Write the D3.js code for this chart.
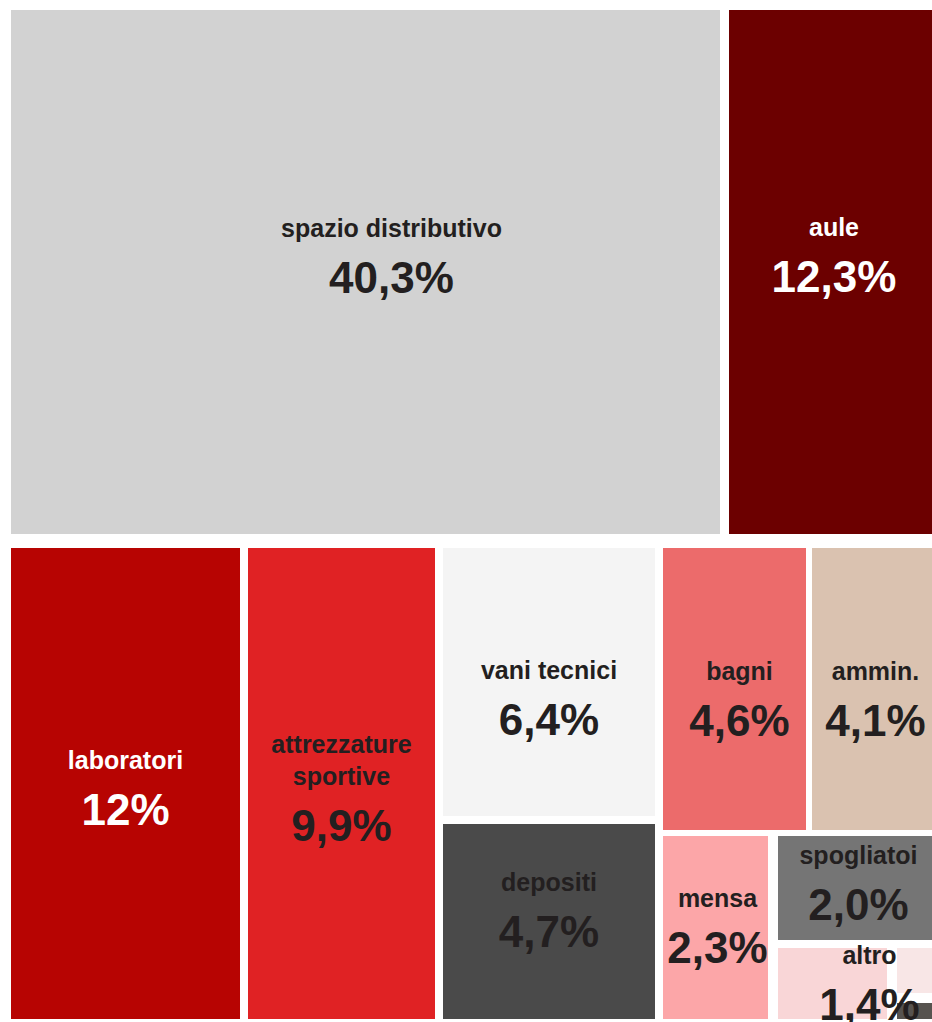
<!DOCTYPE html>
<html lang="it">
<head>
<meta charset="utf-8">
<title>Ripartizione delle superfici</title>
<script src="https://cdn.jsdelivr.net/npm/d3@7/dist/d3.min.js"></script>
<style>
  html, body { margin: 0; padding: 0; background: #ffffff; }
  svg { display: block; }
  text { font-family: "Liberation Sans", Arial, Helvetica, sans-serif; font-weight: bold; }
</style>
</head>
<body>
<svg id="chart" width="932" height="1022"></svg>
<script>
// Quote di superficie per destinazione d'uso (percentuale sul totale)
const categories = [
  "spazio distributivo", "aule", "laboratori", "attrezzature sportive",
  "vani tecnici", "depositi", "bagni", "ammin.", "mensa", "spogliatoi", "altro"
];
const shares = [40.3, 12.3, 12, 9.9, 6.4, 4.7, 4.6, 4.1, 2.3, 2.0, 1.4];
const shareLabels = ["40,3%", "12,3%", "12%", "9,9%", "6,4%", "4,7%", "4,6%", "4,1%", "2,3%", "2,0%", "1,4%"];
// suddivisione interna della voce "altro"
const altroParts = [0.97, 0.29, 0.14];

// Raggruppamento dei riquadri: i livelli si alternano tra colonne e righe
const layoutTree = { id: "root", children: [
  { id: "top", children: ["spazio distributivo", "aule"] },
  { id: "bottom", children: [
    "laboratori", "attrezzature sportive",
    { id: "vani-depositi", children: ["vani tecnici", "depositi"] },
    { id: "servizi", children: [
      { id: "bagni-ammin", children: ["bagni", "ammin."] },
      { id: "mensa-resto", children: ["mensa", { id: "spogl-altro", children: ["spogliatoi", "altro"] }] }
    ]}
  ]}
]};

const fills = {
  "spazio distributivo": "#d2d2d2",
  "aule": "#6c0000",
  "laboratori": "#b70402",
  "attrezzature sportive": "#e02224",
  "vani tecnici": "#f4f4f4",
  "depositi": "#4a4a4a",
  "bagni": "#ec6b6b",
  "ammin.": "#dac2b0",
  "mensa": "#fca6a8",
  "spogliatoi": "#757575",
  "altro": "#f9d6d7"
};
const altroFills = ["#f9d6d7", "#f8e6e6", "#57534f"];
const lightText = new Set(["aule", "laboratori"]);

const gaps = {
  "root": 14, "top": 9, "bottom": 8, "vani-depositi": 8, "servizi": 6,
  "bagni-ammin": 6, "mensa-resto": 10, "spogl-altro": 8, "altro": 10, "altro-b": 10
};

// piccoli spostamenti delle etichette rispetto al centro del riquadro
const labelNudge = {
  "spazio distributivo": [26, -16], "aule": [0, -17], "laboratori": [0, 4],
  "attrezzature sportive": [0, 4], "vani tecnici": [0, 16], "depositi": [0, -12],
  "bagni": [5, 10], "ammin.": [0, 10], "mensa": [2, -2], "spogliatoi": [0, -5],
  "altro": [11, -1]
};

const shareOf = new Map(categories.map((c, i) => [c, shares[i]]));
const labelOf = new Map(categories.map((c, i) => [c, shareLabels[i]]));

function build(item) {
  if (typeof item === "string") {
    if (item === "altro") {
      return { id: "altro", name: "altro", children: [
        { id: "altro-a", part: 0, value: altroParts[0] },
        { id: "altro-b", children: [
          { id: "altro-b1", part: 1, value: altroParts[1] },
          { id: "altro-b2", part: 2, value: altroParts[2] }
        ]}
      ]};
    }
    return { id: item, name: item, value: shareOf.get(item) };
  }
  return { id: item.id, children: item.children.map(build) };
}

const frame = { left: 11, top: 10, width: 928, height: 1009 };

const root = d3.hierarchy(build(layoutTree))
  .sum(d => d.children ? 0 : d.value);

d3.treemap()
  .size([frame.width, frame.height])
  .tile((node, x0, y0, x1, y1) =>
    (node.depth % 2 === 0 ? d3.treemapSlice : d3.treemapDice)(node, x0, y0, x1, y1))
  .paddingInner(node => gaps[node.data.id] || 0)
  .round(true)(root);

const svg = d3.select("#chart");
const g = svg.append("g").attr("transform", `translate(${frame.left},${frame.top})`);

// riquadri
const leaves = root.leaves();
g.selectAll("rect.cell")
  .data(leaves)
  .join("rect")
  .attr("class", "cell")
  .attr("x", d => d.x0)
  .attr("y", d => d.y0)
  .attr("width", d => Math.max(0, d.x1 - d.x0))
  .attr("height", d => Math.max(0, d.y1 - d.y0))
  .attr("fill", d => d.data.part !== undefined ? altroFills[d.data.part] : fills[d.data.name]);

// etichette: nome della voce e quota percentuale
const named = root.descendants().filter(d => d.data.name);
const nameSize = 25, lineGap = 32, valueGap = 56, ascent = 18;

named.forEach(d => {
  const w = d.x1 - d.x0;
  const nudge = labelNudge[d.data.name] || [0, 0];
  const cx = (d.x0 + d.x1) / 2 + nudge[0];
  const cy = (d.y0 + d.y1) / 2 + nudge[1];
  const color = lightText.has(d.data.name) ? "#ffffff" : "#231f20";

  const lab = g.append("g").attr("class", "label");
  // divide il nome su più righe se non entra nel riquadro
  const words = d.data.name.split(" ");
  const probe = lab.append("text").attr("font-size", nameSize);
  const lines = [];
  let current = "";
  words.forEach(wd => {
    const trial = current ? current + " " + wd : wd;
    probe.text(trial);
    if (current && probe.node().getComputedTextLength() > w - 24) {
      lines.push(current);
      current = wd;
    } else {
      current = trial;
    }
  });
  lines.push(current);
  probe.remove();

  const blockH = ascent + (lines.length - 1) * lineGap + valueGap;
  const firstBase = cy - blockH / 2 + ascent;

  lines.forEach((ln, i) => {
    lab.append("text")
      .attr("x", cx)
      .attr("y", firstBase + i * lineGap)
      .attr("text-anchor", "middle")
      .attr("font-size", nameSize)
      .attr("fill", color)
      .text(ln);
  });
  lab.append("text")
    .attr("x", cx)
    .attr("y", firstBase + (lines.length - 1) * lineGap + valueGap)
    .attr("text-anchor", "middle")
    .attr("font-size", 44)
    .attr("fill", color)
    .text(labelOf.get(d.data.name));
});
</script>
</body>
</html>
